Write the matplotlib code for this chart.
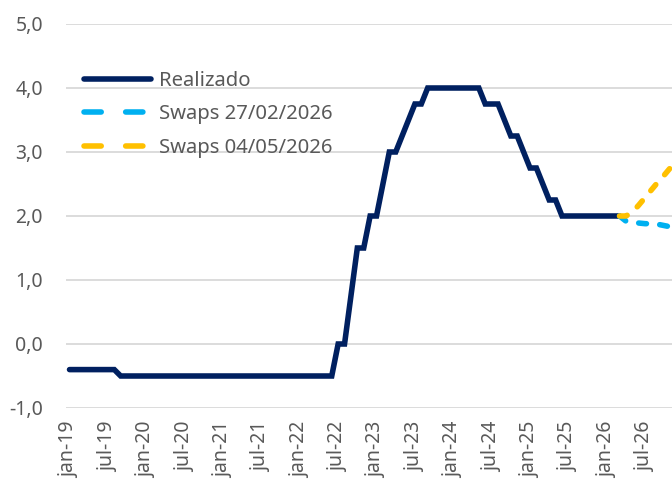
import numpy as np
import matplotlib
matplotlib.use("Agg")
import matplotlib.pyplot as plt
from matplotlib.lines import Line2D

# monthly values, jan-19 .. mar-26
realizado = [
    -0.4, -0.4, -0.4, -0.4, -0.4, -0.4, -0.4, -0.4, -0.5, -0.5, -0.5, -0.5,  # 2019
    -0.5, -0.5, -0.5, -0.5, -0.5, -0.5, -0.5, -0.5, -0.5, -0.5, -0.5, -0.5,  # 2020
    -0.5, -0.5, -0.5, -0.5, -0.5, -0.5, -0.5, -0.5, -0.5, -0.5, -0.5, -0.5,  # 2021
    -0.5, -0.5, -0.5, -0.5, -0.5, -0.5, 0.0, 0.0, 0.75, 1.5, 1.5, 2.0,       # 2022
    2.0, 2.5, 3.0, 3.0, 3.25, 3.5, 3.75, 3.75, 4.0, 4.0, 4.0, 4.0,           # 2023
    4.0, 4.0, 4.0, 4.0, 4.0, 3.75, 3.75, 3.75, 3.5, 3.25, 3.25, 3.0,         # 2024
    2.75, 2.75, 2.5, 2.25, 2.25, 2.0, 2.0, 2.0, 2.0, 2.0, 2.0, 2.0,          # 2025
    2.0, 2.0, 2.0,                                                           # 2026
]
# swaps curves, mar-26 .. dec-26
swaps_feb = [2.0, 1.92, 1.9, 1.89, 1.88, 1.88, 1.87, 1.85, 1.83, 1.82]
swaps_may = [2.0, 2.0, 2.06, 2.17, 2.29, 2.41, 2.53, 2.64, 2.76, 2.87]

tick_labels = ["jan-19", "jul-19", "jan-20", "jul-20", "jan-21", "jul-21",
               "jan-22", "jul-22", "jan-23", "jul-23", "jan-24", "jul-24",
               "jan-25", "jul-25", "jan-26", "jul-26"]
y_ticks = [-1.0, 0.0, 1.0, 2.0, 3.0, 4.0, 5.0]

navy = "#002060"
light_blue = "#00B0F0"
gold = "#FFC000"
grey_txt = "#595959"

plt.rcParams["font.family"] = ["Noto Sans", "DejaVu Sans"]

fig = plt.figure(figsize=(6.72, 4.82), dpi=100)
ax = fig.add_axes([66 / 672, 1 - 408 / 482, 1 - 66 / 672, (408 - 24) / 482])

x_real = np.arange(len(realizado))
x_swap = np.arange(len(realizado) - 1, len(realizado) - 1 + len(swaps_feb))

lw = 4.0
ax.plot(x_swap, swaps_feb, color=light_blue, lw=lw, dashes=(1.4, 2.4),
        dash_capstyle="round", solid_capstyle="round", zorder=3)
ax.plot(x_swap, swaps_may, color=gold, lw=lw, dashes=(1.4, 2.4),
        dash_capstyle="round", solid_capstyle="round", zorder=4)
ax.plot(x_real, realizado, color=navy, lw=lw, solid_capstyle="round",
        solid_joinstyle="miter", zorder=2)

ax.set_xlim(-0.55, 94.2)
ax.set_ylim(-1.0, 5.0)

ax.set_yticks(y_ticks)
ax.set_yticklabels([f"{v:.1f}".replace(".", ",") for v in y_ticks])
ax.set_xticks(np.arange(0, 6 * len(tick_labels), 6))
ax.set_xticklabels(tick_labels, rotation=90)

ax.tick_params(axis="y", length=0, pad=16.5, labelsize=14, labelcolor=grey_txt)
ax.tick_params(axis="x", length=0, pad=10, labelsize=14, labelcolor=grey_txt)

ax.grid(axis="y", color="#D9D9D9", lw=1.3)
ax.set_axisbelow(True)
for s in ax.spines.values():
    s.set_visible(False)

handles = [
    Line2D([], [], color=navy, lw=lw, solid_capstyle="round"),
    Line2D([], [], color=light_blue, lw=lw, dashes=(3.1, 4.4), dash_capstyle="round"),
    Line2D([], [], color=gold, lw=lw, dashes=(3.1, 4.4), dash_capstyle="round"),
]
labels = ["Realizado", "Swaps 27/02/2026", "Swaps 04/05/2026"]
leg = fig.legend(handles, labels, loc="upper left",
                 bbox_to_anchor=(84 / 672, 1 - 71 / 482),
                 frameon=False, fontsize=14.6, handlelength=3.3,
                 handletextpad=0.4, labelspacing=0.66,
                 borderpad=0, borderaxespad=0)
for t in leg.get_texts():
    t.set_color(grey_txt)

fig.savefig("out.png", dpi=100)
